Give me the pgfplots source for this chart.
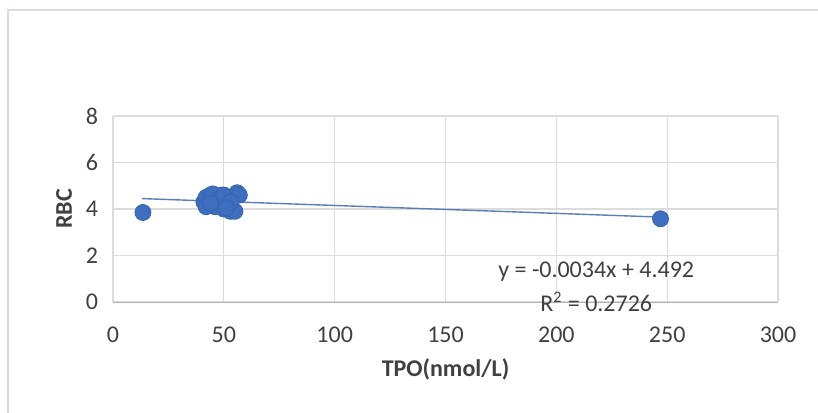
\documentclass[border=0pt]{standalone}
\usepackage{fontspec}
\setmainfont{Carlito}
\usepackage{pgfplots}
\pgfplotsset{compat=1.18}
\usetikzlibrary{calc}
\definecolor{dotblue}{HTML}{3D6EC0}
\definecolor{trend}{HTML}{5B7DB8}
\definecolor{txt}{HTML}{404040}
\definecolor{gridc}{HTML}{DCDCDC}
\definecolor{framec}{HTML}{D6DCEA}

\begin{document}
\begin{tikzpicture}
\begin{axis}[
    scale only axis,
    width=332.5pt, height=93pt,
    xmin=0, xmax=300, ymin=0, ymax=8,
    xtick={0,50,...,300}, ytick={0,2,...,8},
    axis x line=bottom, axis y line=left,
    x axis line style={draw=gray!60, -},
    y axis line style={draw=none},
    major tick length=0pt,
    grid=major, major grid style={gridc, line width=0.6pt},
    tick label style={font=\fontsize{12}{14}\selectfont, text=txt},
    /pgf/number format/assume math mode=true,
    xticklabel style={yshift=-9pt},
    yticklabel style={xshift=-4pt},
    xlabel={\textbf{TPO(nmol/L)}},
    ylabel={\textbf{RBC}},
    label style={font=\fontsize{12}{14}\selectfont, text=txt},
    xlabel style={yshift=-1pt},
    ylabel style={yshift=0pt},
    clip=false,
]
\addplot[trend, line width=0.7pt] coordinates {(13,4.448) (247,3.652)};
\addplot[only marks, mark=*, mark size=4pt, color=dotblue,
    mark options={fill=dotblue, draw=dotblue!90!black}] coordinates {
    (13.5,3.85) (247,3.58)
    (41,4.30) (42,4.50) (43,4.20) (44,4.60) (45,4.40) (46,4.10)
    (47,4.50) (48,4.30) (49,4.60) (50,4.00) (51,4.40) (52,4.20)
    (53,3.90) (54,4.50) (55,3.90) (56,4.70) (57,4.60) (42,4.10)
    (45,4.65) (48,4.45) (50,4.60) (53,4.30) (44,4.25) (51,4.05)
};
\node[font=\fontsize{12}{14}\selectfont, text=txt] at (axis cs:218,1.29) {y = -0.0034x + 4.492};
\node[font=\fontsize{12}{14}\selectfont, text=txt] at (axis cs:218,0.0) {R\textsuperscript{2} = 0.2726};
\coordinate (O) at (rel axis cs:0,0);
\end{axis}
\draw[framec, line width=1pt]
    ($(O)+(-52.5pt,-60pt)$) -- ($(O)+(-52.5pt,146pt)$) -- ($(O)+(360pt,146pt)$);
\pgfresetboundingbox
\useasboundingbox ($(O)+(-56.5pt,-55pt)$) rectangle ($(O)+(352.5pt,151pt)$);
\end{tikzpicture}
\end{document}
